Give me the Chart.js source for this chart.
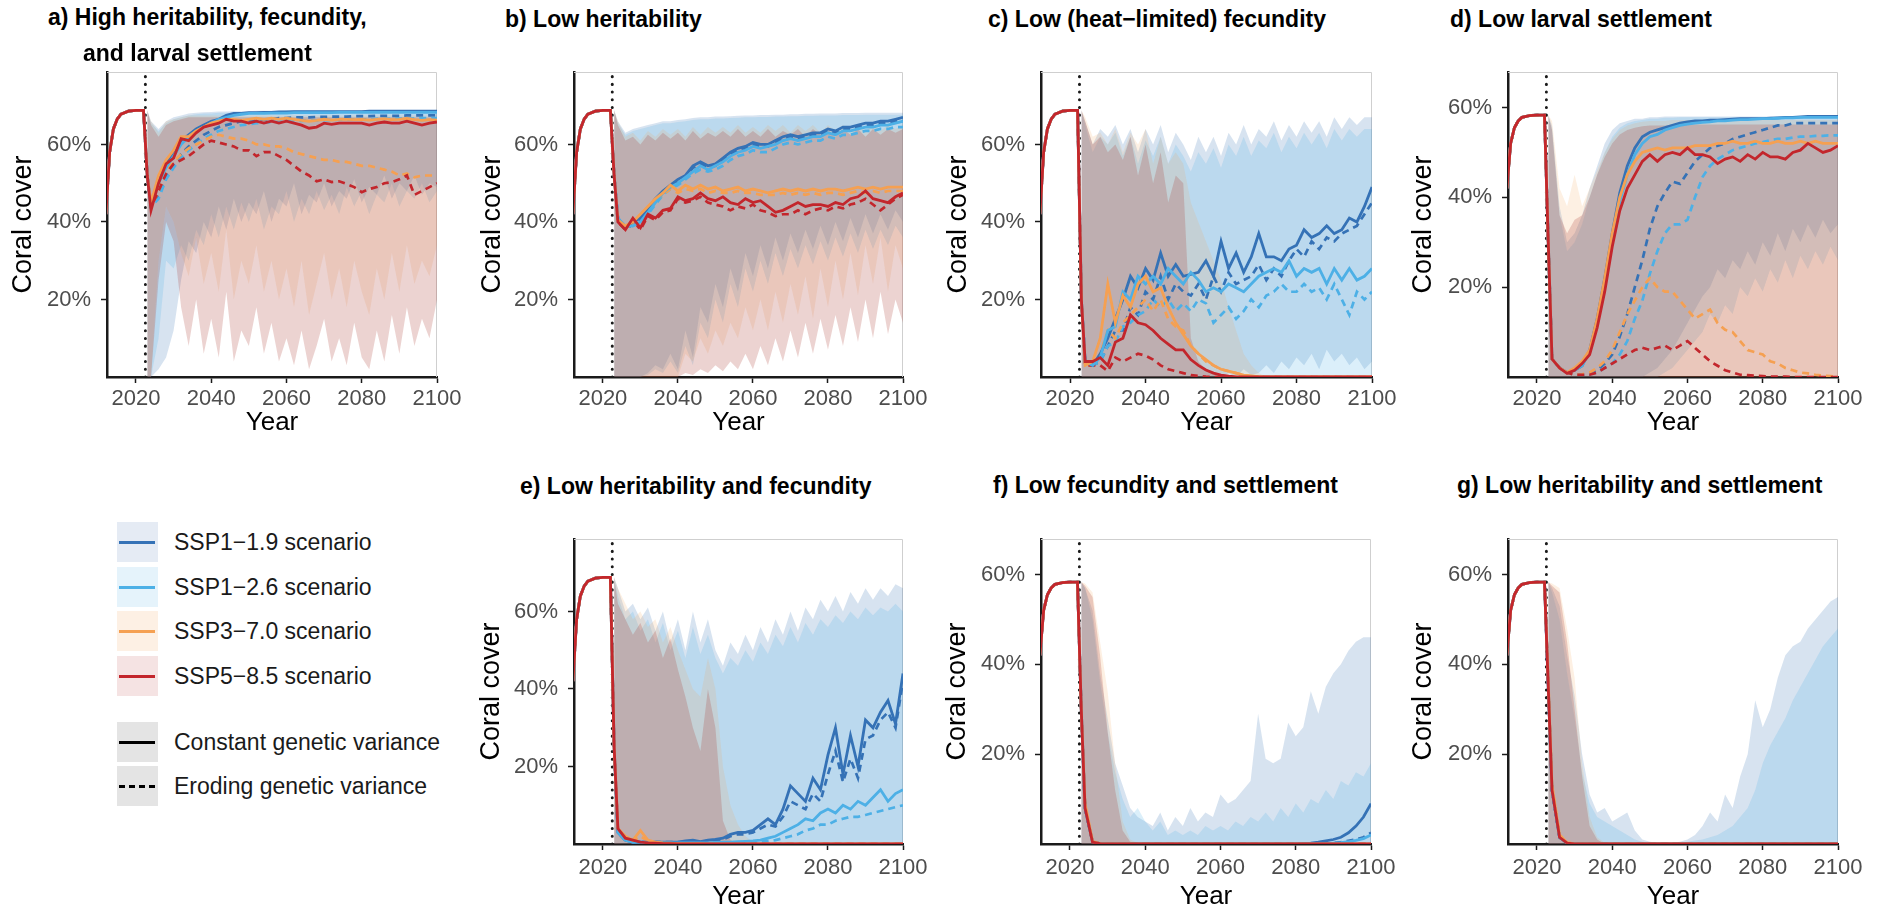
<!DOCTYPE html>
<html>
<head>
<meta charset="utf-8">
<script src="https://cdn.jsdelivr.net/npm/chart.js@4.4.1/dist/chart.umd.min.js"></script>
<style>
  html, body { margin: 0; padding: 0; background: #fff; }
  body { width: 1883px; height: 911px; position: relative; overflow: hidden;
         font-family: 'Liberation Sans', Arial, Helvetica, sans-serif; }
  canvas { position: absolute; }
  .ttl { position: absolute; font-weight: bold; font-size: 23px; line-height: 23px; color: #000; white-space: nowrap; }
  .key { position: absolute; left: 117px; width: 41px; height: 40px; }
  .key i { position: absolute; left: 2px; width: 36px; top: 19px; height: 2.5px; }
  .lab { position: absolute; left: 174px; font-size: 23px; line-height: 40px; height: 40px; color: #1a1a1a; white-space: nowrap; }
</style>
</head>
<body>
<script>
// ---- axis / shared data ----
const X_MIN = 2012.3, X_MAX = 2100;
const SHIFT_YEAR = 2022.5;
const X_TICKS = [2020, 2040, 2060, 2080, 2100];
const Y_TICKS = [20, 40, 60];

const SCENARIOS = ['SSP1\u22121.9 scenario', 'SSP1\u22122.6 scenario', 'SSP3\u22127.0 scenario', 'SSP5\u22128.5 scenario'];
const VARIANCE_TYPES = ['Constant genetic variance', 'Eroding genetic variance'];
const LINE_COLORS = ['#3572b6', '#4db0e6', '#f5a052', '#c3262c'];
const RIBBON_FILLS = ['rgba(53,114,182,0.2)', 'rgba(77,176,230,0.2)', 'rgba(245,160,82,0.16)', 'rgba(170,55,45,0.22)'];
const KEY_FILLS = ['#e5ebf4', '#e5f3fb', '#fdf0e4', '#f5e3e3'];

const YEARS_PRE = [2012, 2013, 2014, 2015, 2016, 2018, 2020, 2022];
const SPIN_HIGH = [42, 58, 64, 66.5, 67.8, 68.6, 68.8, 68.8];
const SPIN_LOW = [42, 52, 55.5, 57, 57.8, 58.2, 58.3, 58.3];

const YEARS_POST = [2023, 2024, 2026, 2028, 2030, 2032, 2034, 2036, 2038, 2040,
  2042, 2044, 2046, 2048, 2050, 2052, 2054, 2056, 2058, 2060,
  2062, 2064, 2066, 2068, 2070, 2072, 2074, 2076, 2078, 2080,
  2082, 2084, 2086, 2088, 2090, 2092, 2094, 2096, 2098, 2100];

const zeroFloor = [0, 0, 0, 0, 0, 0, 0, 0, 0, 0,
  0, 0, 0, 0, 0, 0, 0, 0, 0, 0,
  0, 0, 0, 0, 0, 0, 0, 0, 0, 0,
  0, 0, 0, 0, 0, 0, 0, 0, 0, 0];

// ---- panel a ----
const a_s119 = [52, 44, 51, 55, 57.5, 61, 62.5, 64, 65, 66,
  66.5, 67.5, 68, 68, 68.2, 68.2, 68.3, 68.3, 68.4, 68.4,
  68.5, 68.5, 68.5, 68.5, 68.5, 68.5, 68.5, 68.5, 68.5, 68.5,
  68.6, 68.6, 68.6, 68.6, 68.6, 68.6, 68.6, 68.6, 68.6, 68.6];
const a_s126 = [52, 44.5, 50, 54, 57, 60, 62, 63.5, 64.5, 65.5,
  66.5, 67, 67.5, 67.8, 68, 68, 68, 68.1, 68.1, 68.1,
  68.2, 68.2, 68.2, 68.2, 68.2, 68.2, 68.3, 68.3, 68.3, 68.3,
  68.3, 68.3, 68.3, 68.3, 68.3, 68.3, 68.3, 68.3, 68.3, 68.3];
const a_s370 = [52, 45, 52, 56, 58.5, 62, 62, 63.5, 64.5, 65.5,
  66, 66.5, 66.5, 66.2, 66.5, 66.8, 66.5, 66.8, 66.5, 66.8,
  66.5, 66.2, 66, 66.2, 66.5, 66.3, 66.5, 66.5, 66.4, 66.5,
  66.3, 66.5, 66.6, 66.4, 66.5, 66.7, 66.4, 66.2, 66.4, 66.3];
const a_s585 = [52, 43, 50, 55, 56.5, 61.5, 61, 63, 64.5, 65,
  65.5, 66.5, 66, 66, 65.5, 66, 65.5, 66, 65.5, 66,
  65.5, 65, 64.2, 64.5, 65.5, 65.2, 65.5, 65.5, 65.5, 65.5,
  65, 65.5, 65.8, 65.5, 65.5, 66, 65.5, 65, 65.5, 65.8];
const a_e119 = [52, 44, 47, 52, 55, 57.5, 59.5, 61, 62.5, 63.5,
  64.5, 65, 65.5, 66, 66, 66.3, 66.5, 66.5, 66.8, 66.8,
  67, 67, 67, 67.1, 67.1, 67.2, 67.2, 67.2, 67.3, 67.3,
  67.3, 67.4, 67.4, 67.4, 67.4, 67.5, 67.5, 67.5, 67.5, 67.5];
const a_e126 = [52, 44, 46, 51, 54, 56.5, 58.5, 60, 61.5, 62.5,
  63.5, 64, 64.5, 65, 65.2, 65.5, 65.6, 65.8, 65.9, 66,
  66, 66.1, 66.2, 66.2, 66.3, 66.3, 66.4, 66.4, 66.5, 66.5,
  66.5, 66.6, 66.6, 66.6, 66.7, 66.7, 66.7, 66.8, 66.8, 66.8];
const a_e370 = [52, 44, 48, 53, 55.5, 57.5, 59, 60, 61, 62,
  62.5, 62, 61.5, 61.5, 61, 60, 60, 59.5, 59.5, 59,
  58, 57.5, 57, 56.5, 56, 56, 55.5, 55.5, 55, 54.5,
  54.5, 54, 53.5, 53, 52, 52.5, 51.5, 52, 52, 52];
const a_e585 = [52, 44, 48, 52.5, 55, 56, 57, 58.5, 60, 61,
  60.5, 60, 59.5, 58.5, 58.5, 57, 58, 58, 57, 56,
  54.5, 53, 52, 50.5, 51, 50.3, 50.5, 49.8, 49, 47.7,
  48.5, 49, 50, 50.3, 51, 52, 47, 48, 49, 50];
const a_hi119 = [68.8, 66, 64, 66, 67, 67.5, 68, 68.2, 68.3, 68.4,
  68.5, 68.5, 68.6, 68.6, 68.6, 68.7, 68.7, 68.7, 68.7, 68.8,
  68.8, 68.8, 68.8, 68.8, 68.8, 68.8, 68.8, 68.8, 68.8, 68.8,
  68.8, 68.8, 68.8, 68.8, 68.8, 68.8, 68.8, 68.8, 68.8, 68.8];
const a_lo119 = [0, 0, 2, 5, 12, 25, 35, 32, 40, 36,
  44, 38, 46, 40, 45, 42, 48, 40, 46, 44,
  50, 42, 47, 45, 50, 44, 48, 46, 51, 45,
  49, 47, 52, 46, 50, 48, 52, 47, 50, 49];
const a_hi126 = [68.8, 65.5, 63.5, 65.5, 66.5, 67, 67.5, 67.8, 68, 68,
  68.2, 68.2, 68.2, 68.2, 68.2, 68.2, 68.2, 68.2, 68.2, 68.2,
  68.3, 68.3, 68.3, 68.3, 68.3, 68.3, 68.3, 68.3, 68.3, 68.3,
  68.4, 68.4, 68.4, 68.4, 68.4, 68.4, 68.4, 68.4, 68.4, 68.4];
const a_lo126 = [0, 0, 10, 30, 28, 34, 30, 38, 34, 42,
  36, 44, 38, 45, 40, 46, 38, 44, 42, 48,
  40, 46, 42, 48, 43, 47, 42, 49, 44, 48,
  42, 47, 45, 50, 44, 48, 46, 50, 45, 48];
const a_hi370 = [68.8, 66, 63, 66, 66.5, 67, 67.5, 67.5, 67.5, 67.5,
  67.5, 67.5, 67.5, 67.5, 67.5, 67.5, 67.5, 67.5, 67.5, 67.5,
  67.5, 67.5, 67.5, 67.5, 67.5, 67.5, 67.5, 67.5, 67.5, 67.5,
  67.5, 67.5, 67.5, 67.5, 67.5, 67.5, 67.5, 67.5, 67.5, 67.5];
const a_lo370 = [0, 0, 30, 44, 40, 32, 26, 36, 24, 32,
  22, 38, 20, 30, 24, 34, 22, 30, 20, 28,
  18, 30, 16, 24, 32, 20, 28, 18, 30, 22,
  16, 28, 20, 32, 22, 34, 24, 30, 26, 34];
const a_hi585 = [68.8, 65, 62, 65, 66, 66.5, 67, 67, 67, 67,
  67, 67, 67, 67, 67, 67, 67, 67, 67, 67,
  67, 67, 67, 67, 67, 67, 67, 67, 67, 67,
  67, 67, 67, 67, 67, 67, 67, 67, 67, 67];
const a_lo585 = [0, 0, 25, 40, 35, 18, 8, 20, 6, 15,
  5, 22, 4, 12, 8, 18, 6, 14, 4, 10,
  3, 12, 2, 8, 15, 4, 10, 3, 14, 5,
  2, 12, 4, 16, 6, 18, 8, 15, 10, 20];

// ---- panel b ----
const b_s119 = [52, 41, 38.5, 40, 41, 43.5, 46, 48, 49.5, 51,
  52, 54.5, 55.5, 54.5, 55, 56.5, 58, 59, 59.5, 60.5,
  60, 60, 61, 62, 62.5, 62, 62.5, 63, 63, 64,
  63.5, 64.5, 64.5, 65, 65.5, 65.5, 66, 66, 66.5, 67];
const b_s126 = [52, 41, 39, 39, 40, 42.5, 45, 47.5, 49, 50,
  51.5, 53, 54.5, 53.5, 54.5, 55.5, 57, 58, 58.5, 59.5,
  59, 59.5, 60, 61, 61.5, 61, 61.5, 62, 62, 63,
  62.5, 63.5, 63.5, 64, 64.5, 64.5, 65, 65, 65.5, 66];
const b_s370 = [52, 40.5, 39, 40, 42, 44, 46, 47.5, 49.5, 48,
  49.5, 48.5, 49.5, 48.5, 49, 48, 48.5, 49, 48, 48.5,
  48, 47.5, 48, 48.5, 48, 48.5, 48, 48.5, 48, 48.5,
  48.5, 48, 48.5, 49, 48.5, 49, 48.5, 49, 49, 49];
const b_s585 = [52, 40, 38, 41, 38.5, 42, 41, 43, 43.5, 46.5,
  45.5, 46, 47.5, 46, 45.5, 46.5, 45, 44.5, 46, 45,
  45.5, 44, 42.5, 43, 44, 45, 44, 44.5, 44.5, 44,
  45, 44.5, 46, 46.5, 48, 46, 45.5, 45, 46.5, 47.5];
const b_e119 = [52, 41, 38, 39.5, 40.5, 43, 45.5, 47.5, 49, 50.5,
  51.5, 54, 55, 54, 54.5, 56, 57.5, 58.5, 59, 60,
  59.5, 59.5, 60.5, 61.5, 62, 61.5, 62, 62.5, 62.5, 63.5,
  63, 64, 64, 64.5, 65, 65, 65.5, 65.5, 66, 66];
const b_e126 = [52, 41, 38.5, 39, 40, 42, 44.5, 47, 48.5, 49.5,
  51, 52.5, 53.5, 53, 53.5, 54.5, 56, 57, 57.5, 58.5,
  58, 58, 59, 60, 60.5, 60, 60.5, 61, 61, 62,
  61.5, 62.5, 62.5, 63, 63.5, 63.5, 64, 64, 64.5, 64.5];
const b_e370 = [52, 40.5, 38.5, 39.5, 41.5, 43.5, 45.5, 47, 48.5, 47.5,
  48.5, 48, 48.5, 47.5, 48, 47.5, 47.5, 48, 47.5, 47.5,
  47, 47, 47, 47.5, 47, 47.5, 47, 47.5, 47, 47.5,
  47.5, 47, 47.5, 48, 47.5, 48, 47.5, 48, 48, 48];
const b_e585 = [52, 40, 38, 40.5, 38, 41.5, 40.5, 42.5, 43, 46,
  45, 45.5, 46.5, 45, 44.5, 44, 43, 44, 43.5, 44.5,
  43, 42.5, 41.5, 42, 42, 43, 42, 43, 43.5, 43,
  44, 43.5, 44.5, 45, 46, 44.5, 43, 44.5, 46, 47];
const b_hi119 = [68.8, 66, 63, 64, 64.5, 65, 65.5, 66, 66, 66.3,
  66.5, 66.8, 67, 67, 67.2, 67.2, 67.3, 67.4, 67.5, 67.5,
  67.6, 67.6, 67.7, 67.7, 67.8, 67.8, 67.9, 67.9, 68, 68,
  68, 68.1, 68.1, 68.1, 68.2, 68.2, 68.2, 68.2, 68.2, 68.2];
const b_lo119 = [0, 0, 0, 0, 0, 1, 3, 2, 6, 2,
  12, 5, 18, 14, 24, 18, 28, 22, 32, 26,
  34, 28, 36, 30, 37, 32, 38, 33, 39, 34,
  40, 35, 41, 36, 42, 37, 42, 38, 43, 40];
const b_hi126 = [68.8, 65.5, 62.5, 63.5, 64, 64.5, 65, 65.5, 65.5, 65.8,
  66, 66.3, 66.5, 66.5, 66.7, 66.7, 66.8, 66.9, 67, 67,
  67.1, 67.1, 67.2, 67.2, 67.3, 67.3, 67.4, 67.4, 67.5, 67.5,
  67.5, 67.6, 67.6, 67.6, 67.7, 67.7, 67.7, 67.7, 67.7, 67.7];
const b_lo126 = [0, 0, 0, 0, 0, 0.5, 2, 1, 4, 1,
  8, 3, 14, 10, 20, 14, 24, 18, 28, 22,
  30, 24, 32, 26, 33, 28, 34, 29, 35, 30,
  36, 31, 37, 32, 38, 33, 38, 34, 39, 36];
const b_hi370 = [68.8, 66, 62, 63, 61, 63.5, 62, 64, 62.5, 64,
  62, 64.5, 62.5, 64.5, 63, 64.5, 63, 65, 63, 64.5,
  63, 65, 63.5, 65, 63, 65, 63.5, 65, 63, 65,
  63.5, 65, 63, 65, 63.5, 65, 63.5, 65, 64, 65];
const b_lo370 = [0, 0, 0, 0, 0, 0, 0, 0, 0, 0,
  6, 4, 10, 6, 12, 8, 14, 10, 18, 12,
  20, 12, 22, 14, 24, 16, 26, 15, 28, 18,
  30, 20, 32, 21, 34, 24, 36, 22, 34, 28];
const b_hi585 = [68.8, 65, 61, 62, 60, 62.5, 61, 63, 61.5, 63,
  61, 63.5, 61.5, 63, 62, 63.5, 62, 64, 62, 63.5,
  62, 64, 62, 63.5, 62.5, 64, 62, 64, 62.5, 64,
  62, 64, 62.5, 64, 62, 64, 62.5, 64, 63, 64];
const b_lo585 = [0, 0, 0, 0, 0, 0, 0, 0, 0, 0,
  1, 0.5, 2, 1, 3, 1.5, 4, 2, 6, 2,
  8, 3, 10, 4, 12, 5, 14, 6, 15, 7,
  16, 8, 18, 9, 20, 10, 22, 11, 20, 14];

// ---- panel c ----
const c_s119 = [20, 4, 3, 6, 10, 15, 20, 26, 23, 28,
  25, 32, 26, 29, 26, 26.5, 27, 30, 26, 35,
  28, 32, 27, 31, 37, 31, 31, 30, 33, 34,
  38, 36, 37, 39, 37, 38, 41, 40, 44, 49];
const c_s126 = [20, 4, 3, 5, 12, 13, 22, 20, 26, 24,
  26, 24, 28, 26, 24, 27, 25, 22, 23, 22,
  24, 23, 22, 24, 26, 27, 28, 27, 30, 26,
  28, 27, 28, 24, 28, 25, 28, 25, 26, 28];
const c_s370 = [20, 3, 4, 10, 24, 14, 21, 18, 24, 26,
  22, 23, 18, 14, 11, 8, 6, 4.5, 3, 2,
  1.5, 1, 0.5, 0.3, 0.1, 0, 0, 0, 0, 0,
  0, 0, 0, 0, 0, 0, 0, 0, 0, 0];
const c_s585 = [20, 4, 4, 5, 3, 9, 10, 16, 14, 13.5,
  12, 10, 8.5, 7, 7, 4.5, 3, 1.8, 1, 0.5,
  0.2, 0, 0, 0, 0, 0, 0, 0, 0, 0,
  0, 0, 0, 0, 0, 0, 0, 0, 0, 0];
const c_e119 = [20, 4, 3, 4, 8, 12, 12, 18, 16, 22,
  20, 26, 20, 24, 22, 21, 24, 20, 26, 22,
  27, 24, 25, 26, 29, 25, 28, 26, 30, 33,
  31, 35, 33, 36, 35, 37, 38, 39, 42, 45];
const c_e126 = [20, 4, 3, 4, 8, 9, 13, 14, 16, 17,
  20, 18, 20, 17, 19, 17, 20, 19, 14, 16,
  18, 15, 17, 20, 18, 21, 22, 24, 22, 22,
  24, 22, 23, 20, 24, 20, 16, 22, 20, 22];
const c_e370 = [20, 3, 3, 6, 12, 10, 14, 16, 18, 20,
  17, 20, 15, 13, 12, 8, 6, 4, 3, 2,
  1.5, 1, 0.5, 0.2, 0, 0, 0, 0, 0, 0,
  0, 0, 0, 0, 0, 0, 0, 0, 0, 0];
const c_e585 = [20, 3, 3, 3, 1.5, 5, 4, 5, 6, 5.5,
  4.5, 3, 2, 1.5, 1, 0.5, 0.3, 0.1, 0, 0,
  0, 0, 0, 0, 0, 0, 0, 0, 0, 0,
  0, 0, 0, 0, 0, 0, 0, 0, 0, 0];
const c_hi119 = [68.8, 66, 60, 64, 62, 65, 60, 64, 58, 64,
  60, 65, 58, 63, 60, 56, 62, 58, 62, 57,
  63, 60, 65, 60, 64, 62, 66, 61, 65, 62,
  66, 63, 66, 62, 67, 64, 67, 65, 67, 67];
const c_lo119 = [0, 0, 0, 0, 0, 0, 0, 0, 0, 0,
  0, 0, 0, 0, 0, 0, 0, 0, 0, 0,
  1, 0, 2, 0.5, 1, 3, 1, 4, 2, 5,
  3, 6, 2, 7, 4, 6, 3, 5, 2, 4];
const c_hi126 = [68.8, 65, 58, 62, 60, 63, 57, 62, 55, 61,
  57, 62, 55, 60, 57, 53, 58, 55, 59, 54,
  60, 57, 62, 57, 61, 59, 63, 58, 62, 59,
  63, 60, 63, 59, 64, 61, 64, 62, 64, 64];
const c_hi370 = [68.8, 67, 62, 63, 60, 64, 58, 63, 60, 64,
  55, 62, 55, 58, 55, 45, 40, 35, 30, 25,
  18, 12, 6, 3, 1, 0, 0, 0, 0, 0,
  0, 0, 0, 0, 0, 0, 0, 0, 0, 0];
const c_hi585 = [68.8, 66, 60, 62, 58, 60, 56, 62, 52, 60,
  50, 58, 45, 52, 50, 10, 4, 2, 1, 0.5,
  0, 0, 0, 0, 0, 0, 0, 0, 0, 0,
  0, 0, 0, 0, 0, 0, 0, 0, 0, 0];

// ---- panel d ----
const d_s119 = [30, 4, 2, 1, 1.5, 2.5, 6, 13, 22, 32,
  41, 47, 51, 53.5, 54.5, 55, 55.5, 56, 56.5, 56.8,
  57, 57, 57.2, 57.2, 57.3, 57.4, 57.5, 57.5, 57.5, 57.5,
  57.6, 57.7, 57.8, 57.8, 57.9, 58, 58, 58, 58, 58];
const d_s126 = [30, 4, 2, 1, 1.5, 2.5, 5.5, 12, 21, 30,
  39, 45, 49.5, 52, 53.5, 54, 55, 55.5, 56, 56.3,
  56.5, 56.7, 56.8, 57, 57, 57.2, 57.3, 57.3, 57.4, 57.5,
  57.5, 57.6, 57.7, 57.7, 57.8, 57.8, 57.8, 57.8, 57.8, 57.8];
const d_s370 = [30, 4, 2, 1, 2, 3.5, 6, 13, 22, 32,
  40, 45, 48, 50, 50.5, 51, 50.5, 51, 51, 51,
  51.5, 51.5, 51.5, 52, 52, 52.5, 52, 52, 52.5, 52,
  52, 52.5, 52, 52, 52.5, 52, 52.5, 52, 52, 52];
const d_s585 = [30, 4, 2, 0.8, 1.5, 3, 5, 11, 19, 29,
  37, 42, 45, 48, 49.5, 48, 49.5, 50, 49.5, 51,
  49.5, 49.5, 49, 47.5, 48.5, 49, 48, 49.5, 48.5, 50,
  49, 49, 48.5, 50, 50.5, 52, 51, 50, 50.5, 51.5];
const d_e119 = [30, 4, 2, 1, 0.5, 0.5, 0.8, 1.5, 3, 5,
  9, 14, 20, 26, 33, 38, 41, 43.5, 43, 45.5,
  48, 49.5, 51, 51.5, 52, 53, 53.5, 54, 54.5, 55,
  55.5, 56, 56, 56.5, 56.5, 56.5, 56.5, 56.5, 56.5, 56.5];
const d_e126 = [30, 4, 2, 1, 0.5, 0.5, 0.6, 1, 2, 3,
  5, 8, 13, 17, 23, 28, 32, 34, 34, 35,
  40, 44.5, 47, 48.5, 49.5, 50.5, 51, 51.5, 52, 52.3,
  52.7, 53, 53, 53.3, 53.5, 53.5, 53.7, 53.7, 53.8, 53.8];
const d_e370 = [30, 4, 2, 1, 0.5, 0.6, 1, 2, 3.5, 6,
  10, 14, 17, 20, 22, 20, 19, 19, 17, 15,
  13, 14, 15, 12, 10.5, 10, 8, 6, 5.5, 5,
  3.5, 3, 2, 1.5, 1, 0.8, 0.5, 0.3, 0.2, 0.1];
const d_e585 = [30, 4, 2, 1, 0.5, 0.5, 0.5, 1, 2, 3,
  4, 5, 6, 6.5, 6, 6.5, 7, 6, 7, 8,
  6.5, 5, 3.5, 2.5, 1.5, 1, 0.5, 0.4, 0.3, 0.2,
  0.1, 0.1, 0.1, 0, 0, 0, 0, 0, 0, 0];
const d_hi119 = [58.3, 56, 38, 30, 32, 36, 42, 47, 52, 55,
  56.5, 57, 57.5, 57.5, 57.8, 57.8, 58, 58, 58, 58,
  58, 58, 58, 58, 58, 58, 58, 58, 58, 58,
  58, 58, 58, 58, 58, 58, 58, 58, 58, 58];
const d_lo119 = [0, 0, 0, 0, 0, 0, 0, 0, 0, 0,
  0, 0, 0, 0, 1, 2, 4, 6, 9, 12,
  15, 18, 20, 24, 22, 26, 24, 28, 25, 30,
  27, 32, 28, 33, 30, 34, 31, 35, 32, 34];
const d_hi126 = [58.3, 55, 36, 28, 30, 34, 40, 45, 50, 53.5,
  55.5, 56.5, 57, 57.2, 57.5, 57.5, 57.7, 57.7, 57.8, 57.8,
  57.8, 57.8, 57.8, 57.8, 57.8, 57.8, 57.8, 57.8, 57.8, 57.8,
  57.8, 57.8, 57.8, 57.8, 57.8, 57.8, 57.8, 57.8, 57.8, 57.8];
const d_lo126 = [0, 0, 0, 0, 0, 0, 0, 0, 0, 0,
  0, 0, 0, 0, 0, 0, 1, 2, 4, 6,
  8, 10, 14, 12, 16, 14, 20, 18, 22, 19,
  24, 21, 26, 22, 27, 24, 28, 25, 29, 26];
const d_hi370 = [58.3, 57, 42, 38, 45, 38, 42, 46, 50, 53,
  55, 56, 56.5, 56.8, 57, 57, 57, 57.2, 57.2, 57.2,
  57.2, 57.2, 57.2, 57.2, 57.2, 57.2, 57.2, 57.2, 57.2, 57.2,
  57.2, 57.2, 57.2, 57.2, 57.2, 57.2, 57.2, 57.2, 57.2, 57.2];
const d_hi585 = [58.3, 55, 36, 32, 35, 36, 40, 45, 49, 52,
  54, 55, 55.5, 55.8, 56, 56, 56, 56.2, 56.2, 56.2,
  56.2, 56.2, 56.2, 56.2, 56.2, 56.2, 56.2, 56.2, 56.2, 56.2,
  56.2, 56.2, 56.2, 56.2, 56.2, 56.2, 56.2, 56.2, 56.2, 56.2];

// ---- panel e ----
const e_s119 = [25, 3, 1, 0.5, 0.5, 0.5, 0.5, 0.5, 0.5, 0.5,
  0.8, 1, 0.6, 1, 1.2, 1.5, 2.5, 3, 3, 3.5,
  5, 6.5, 5, 9, 15, 13, 11, 17, 14, 23,
  30, 18, 28, 20, 32, 30, 34, 37, 31, 44];
const e_s126 = [25, 3, 1, 0.5, 0.5, 0.3, 0.3, 0.3, 0.3, 0.3,
  0.3, 0.3, 0.3, 0.3, 0.4, 0.5, 0.5, 0.6, 0.7, 0.8,
  1, 1.5, 2, 3, 4, 5, 6.5, 6, 8, 9,
  8, 10, 9, 11, 10, 12, 14, 11, 13, 14];
const e_s370 = [25, 4, 2, 1, 3.5, 1, 0.5, 0.3, 0.2, 0.1,
  0.1, 0.1, 0.1, 0, 0, 0, 0, 0, 0, 0,
  0, 0, 0, 0, 0, 0, 0, 0, 0, 0,
  0, 0, 0, 0, 0, 0, 0, 0, 0, 0];
const e_s585 = [25, 4, 1.5, 1, 0.5, 0.3, 0.2, 0.1, 0.1, 0,
  0, 0, 0, 0, 0, 0, 0, 0, 0, 0,
  0, 0, 0, 0, 0, 0, 0, 0, 0, 0,
  0, 0, 0, 0, 0, 0, 0, 0, 0, 0];
const e_e119 = [25, 3, 1, 0.5, 0.5, 0.5, 0.5, 0.5, 0.5, 0.5,
  0.5, 0.8, 0.5, 0.8, 1, 1.2, 2, 2.5, 2.5, 3,
  4, 5, 4.5, 7, 11, 10, 9, 13, 11, 18,
  24, 16, 22, 17, 27, 28, 32, 34, 30, 42];
const e_e126 = [25, 3, 1, 0.5, 0.5, 0.3, 0.3, 0.3, 0.3, 0.3,
  0.3, 0.3, 0.3, 0.3, 0.3, 0.3, 0.3, 0.4, 0.4, 0.5,
  0.6, 0.8, 1, 1.5, 2, 2.5, 3.5, 4, 5, 5,
  6, 6.5, 7, 7, 7.5, 8, 8.5, 9, 9.5, 10];
const e_e370 = [25, 3.5, 1.5, 0.8, 2, 0.8, 0.4, 0.2, 0.1, 0,
  0, 0, 0, 0, 0, 0, 0, 0, 0, 0,
  0, 0, 0, 0, 0, 0, 0, 0, 0, 0,
  0, 0, 0, 0, 0, 0, 0, 0, 0, 0];
const e_e585 = [25, 3.5, 1.2, 0.8, 0.4, 0.2, 0.1, 0, 0, 0,
  0, 0, 0, 0, 0, 0, 0, 0, 0, 0,
  0, 0, 0, 0, 0, 0, 0, 0, 0, 0,
  0, 0, 0, 0, 0, 0, 0, 0, 0, 0];
const e_hi119 = [68.8, 66, 60, 62, 58, 61, 55, 60, 52, 58,
  50, 60, 52, 58, 50, 46, 52, 49, 54, 50,
  56, 52, 58, 54, 60, 55, 61, 58, 63, 60,
  64, 60, 65, 62, 66, 63, 66, 64, 67, 66];
const e_hi126 = [68.8, 64, 58, 60, 55, 58, 52, 57, 50, 55,
  48, 56, 49, 54, 48, 44, 48, 46, 50, 47,
  52, 49, 54, 51, 56, 52, 57, 54, 58, 56,
  59, 57, 60, 58, 61, 59, 61, 60, 62, 60];
const e_hi370 = [68.8, 66, 62, 58, 60, 56, 58, 52, 56, 50,
  45, 40, 38, 48, 40, 20, 10, 5, 2, 0.5,
  0, 0, 0, 0, 0, 0, 0, 0, 0, 0,
  0, 0, 0, 0, 0, 0, 0, 0, 0, 0];
const e_hi585 = [68.8, 62, 58, 54, 57, 52, 55, 48, 53, 45,
  38, 30, 24, 40, 30, 6, 1, 0, 0, 0,
  0, 0, 0, 0, 0, 0, 0, 0, 0, 0,
  0, 0, 0, 0, 0, 0, 0, 0, 0, 0];

// ---- panel f ----
const f_s119 = [30, 8, 0.5, 0.1, 0, 0, 0, 0, 0, 0,
  0, 0, 0, 0, 0, 0, 0, 0, 0, 0,
  0, 0, 0, 0, 0, 0, 0, 0, 0, 0,
  0.1, 0.2, 0.4, 0.7, 1, 1.5, 2.5, 4, 6, 9];
const f_s126 = [30, 8, 0.5, 0.1, 0, 0, 0, 0, 0, 0,
  0, 0, 0, 0, 0, 0, 0, 0, 0, 0,
  0, 0, 0, 0, 0, 0, 0, 0, 0, 0,
  0, 0, 0, 0.1, 0.2, 0.3, 0.5, 0.8, 1.2, 2];
const f_s370 = [30, 9, 0.6, 0.1, 0, 0, 0, 0, 0, 0,
  0, 0, 0, 0, 0, 0, 0, 0, 0, 0,
  0, 0, 0, 0, 0, 0, 0, 0, 0, 0,
  0, 0, 0, 0, 0, 0, 0, 0, 0, 0];
const f_s585 = [30, 8, 0.4, 0.1, 0, 0, 0, 0, 0, 0,
  0, 0, 0, 0, 0, 0, 0, 0, 0, 0,
  0, 0, 0, 0, 0, 0, 0, 0, 0, 0,
  0, 0, 0, 0, 0, 0, 0, 0, 0, 0];
const f_e119 = [30, 8, 0.5, 0.1, 0, 0, 0, 0, 0, 0,
  0, 0, 0, 0, 0, 0, 0, 0, 0, 0,
  0, 0, 0, 0, 0, 0, 0, 0, 0, 0,
  0, 0, 0, 0, 0.2, 0.4, 0.7, 1, 1.5, 2.5];
const f_e126 = [30, 8, 0.5, 0.1, 0, 0, 0, 0, 0, 0,
  0, 0, 0, 0, 0, 0, 0, 0, 0, 0,
  0, 0, 0, 0, 0, 0, 0, 0, 0, 0,
  0, 0, 0, 0, 0, 0, 0, 0, 0, 0];
const f_e370 = [30, 8.5, 0.5, 0.1, 0, 0, 0, 0, 0, 0,
  0, 0, 0, 0, 0, 0, 0, 0, 0, 0,
  0, 0, 0, 0, 0, 0, 0, 0, 0, 0,
  0, 0, 0, 0, 0, 0, 0, 0, 0, 0];
const f_e585 = [30, 8, 0.4, 0.1, 0, 0, 0, 0, 0, 0,
  0, 0, 0, 0, 0, 0, 0, 0, 0, 0,
  0, 0, 0, 0, 0, 0, 0, 0, 0, 0,
  0, 0, 0, 0, 0, 0, 0, 0, 0, 0];
const f_hi119 = [58.3, 57, 52, 38, 28, 18, 13, 8, 6, 5,
  4, 7, 3, 6, 4, 8, 5, 7, 6, 11,
  9, 10, 12, 14, 29, 19, 18, 19, 27, 24,
  26, 34, 29, 35, 38, 40, 43, 45, 46, 46];
const f_hi126 = [58.3, 57, 50, 36, 25, 16, 10, 6, 8, 5,
  3, 5, 2, 3, 2, 3, 2, 4, 3, 4,
  3, 5, 4, 6, 5, 7, 5, 8, 6, 9,
  7, 10, 9, 12, 10, 14, 13, 16, 15, 18];
const f_hi370 = [58.3, 58, 56, 45, 34, 18, 5, 1, 0.2, 0,
  0, 0, 0, 0, 0, 0, 0, 0, 0, 0,
  0, 0, 0, 0, 0, 0, 0, 0, 0, 0,
  0, 0, 0, 0, 0, 0, 0, 0, 0, 0];
const f_hi585 = [58.3, 57.5, 55, 42, 25, 12, 3, 0.5, 0, 0,
  0, 0, 0, 0, 0, 0, 0, 0, 0, 0,
  0, 0, 0, 0, 0, 0, 0, 0, 0, 0,
  0, 0, 0, 0, 0, 0, 0, 0, 0, 0];

// ---- panel g ----
const g_s119 = [35, 12, 1.5, 0.2, 0, 0, 0, 0, 0, 0,
  0, 0, 0, 0, 0, 0, 0, 0, 0, 0,
  0, 0, 0, 0, 0, 0, 0, 0, 0, 0,
  0, 0, 0, 0, 0, 0, 0, 0, 0, 0];
const g_s126 = [35, 12, 1.5, 0.2, 0, 0, 0, 0, 0, 0,
  0, 0, 0, 0, 0, 0, 0, 0, 0, 0,
  0, 0, 0, 0, 0, 0, 0, 0, 0, 0,
  0, 0, 0, 0, 0, 0, 0, 0, 0, 0];
const g_s370 = [36, 13, 2, 0.3, 0, 0, 0, 0, 0, 0,
  0, 0, 0, 0, 0, 0, 0, 0, 0, 0,
  0, 0, 0, 0, 0, 0, 0, 0, 0, 0,
  0, 0, 0, 0, 0, 0, 0, 0, 0, 0];
const g_s585 = [35, 12, 1.5, 0.2, 0, 0, 0, 0, 0, 0,
  0, 0, 0, 0, 0, 0, 0, 0, 0, 0,
  0, 0, 0, 0, 0, 0, 0, 0, 0, 0,
  0, 0, 0, 0, 0, 0, 0, 0, 0, 0];
const g_e119 = g_s119, g_e126 = g_s126, g_e370 = g_s370, g_e585 = g_s585;
const g_hi119 = [58.3, 57, 53, 42, 33, 20, 11, 7, 8, 5,
  6, 7, 3, 1, 0.5, 0.3, 0.3, 0.3, 0.5, 1,
  2, 4, 7, 5, 11, 8, 15, 20, 32, 26,
  30, 37, 42, 44, 45, 48, 50, 52, 54, 55];
const g_hi126 = [58.3, 56, 50, 38, 28, 16, 9, 6, 5, 4,
  3, 2, 1, 0.5, 0.3, 0.2, 0.2, 0.2, 0.3, 0.5,
  0.8, 1, 1.5, 2, 3, 4, 6, 8, 12, 18,
  22, 25, 28, 32, 35, 38, 41, 44, 46, 48];
const g_hi370 = [58.3, 58, 57, 48, 37, 18, 6, 1.5, 0.3, 0,
  0, 0, 0, 0, 0, 0, 0, 0, 0, 0,
  0, 0, 0, 0, 0, 0, 0, 0, 0, 0,
  0, 0, 0, 0, 0, 0, 0, 0, 0, 0];
const g_hi585 = [58.3, 57.5, 56, 45, 30, 15, 4, 1, 0, 0,
  0, 0, 0, 0, 0, 0, 0, 0, 0, 0,
  0, 0, 0, 0, 0, 0, 0, 0, 0, 0,
  0, 0, 0, 0, 0, 0, 0, 0, 0, 0];

// ---- panel assembly (layout boxes are page pixels, kept apart from data) ----
const panels = [
  { title: ['a) High heritability, fecundity,', 'and larval settlement'], spin: SPIN_HIGH, yMax: 78.7,
    solid: [a_s119, a_s126, a_s370, a_s585], erode: [a_e119, a_e126, a_e370, a_e585],
    hi: [a_hi119, a_hi126, a_hi370, a_hi585], lo: [a_lo119, a_lo126, a_lo370, a_lo585],
    box: { left: 10, top: 62, width: 457, height: 374, yw: 97, xh: 59, tickPad: 3 },
    titlePos: [[48, 6], [83, 42]] },
  { title: ['b) Low heritability'], spin: SPIN_HIGH, yMax: 78.7,
    solid: [b_s119, b_s126, b_s370, b_s585], erode: [b_e119, b_e126, b_e370, b_e585],
    hi: [b_hi119, b_hi126, b_hi370, b_hi585], lo: [b_lo119, b_lo126, b_lo370, b_lo585],
    box: { left: 479, top: 62, width: 454, height: 374, yw: 95, xh: 59, tickPad: 3 },
    titlePos: [[505, 8]] },
  { title: ['c) Low (heat\u2212limited) fecundity'], spin: SPIN_HIGH, yMax: 78.7,
    solid: [c_s119, c_s126, c_s370, c_s585], erode: [c_e119, c_e126, c_e370, c_e585],
    hi: [c_hi119, c_hi126, c_hi370, c_hi585], lo: [c_lo119, zeroFloor, zeroFloor, zeroFloor],
    box: { left: 945, top: 62, width: 457, height: 374, yw: 96, xh: 59, tickPad: 3 },
    titlePos: [[988, 8]] },
  { title: ['d) Low larval settlement'], spin: SPIN_LOW, yMax: 67.9,
    solid: [d_s119, d_s126, d_s370, d_s585], erode: [d_e119, d_e126, d_e370, d_e585],
    hi: [d_hi119, d_hi126, d_hi370, d_hi585], lo: [d_lo119, d_lo126, zeroFloor, zeroFloor],
    box: { left: 1410, top: 62, width: 458, height: 374, yw: 98, xh: 59, tickPad: 3 },
    titlePos: [[1450, 8]] },
  { title: ['e) Low heritability and fecundity'], spin: SPIN_HIGH, yMax: 78.7,
    solid: [e_s119, e_s126, e_s370, e_s585], erode: [e_e119, e_e126, e_e370, e_e585],
    hi: [e_hi119, e_hi126, e_hi370, e_hi585], lo: [zeroFloor, zeroFloor, zeroFloor, zeroFloor],
    box: { left: 478, top: 529, width: 455, height: 381, yw: 96, xh: 66, tickPad: 5 },
    titlePos: [[520, 475]] },
  { title: ['f) Low fecundity and settlement'], spin: SPIN_LOW, yMax: 67.9,
    solid: [f_s119, f_s126, f_s370, f_s585], erode: [f_e119, f_e126, f_e370, f_e585],
    hi: [f_hi119, f_hi126, f_hi370, f_hi585], lo: [zeroFloor, zeroFloor, zeroFloor, zeroFloor],
    box: { left: 944, top: 529, width: 457, height: 381, yw: 97, xh: 66, tickPad: 5 },
    titlePos: [[993, 474]] },
  { title: ['g) Low heritability and settlement'], spin: SPIN_LOW, yMax: 67.9,
    solid: [g_s119, g_s126, g_s370, g_s585], erode: [g_e119, g_e126, g_e370, g_e585],
    hi: [g_hi119, g_hi126, g_hi370, g_hi585], lo: [zeroFloor, zeroFloor, zeroFloor, zeroFloor],
    box: { left: 1410, top: 529, width: 458, height: 381, yw: 98, xh: 66, tickPad: 5 },
    titlePos: [[1457, 474]] }
];

Chart.defaults.font.family = "'Liberation Sans', Arial, Helvetica, sans-serif";
Chart.defaults.color = '#4d4d4d';

// thin grey top/right frame like the ggplot panel border
const framePlugin = {
  id: 'frame',
  beforeDatasetsDraw(chart) {
    const a = chart.chartArea, ctx = chart.ctx;
    ctx.save();
    ctx.strokeStyle = '#cfcfcf';
    ctx.lineWidth = 1;
    ctx.beginPath();
    ctx.moveTo(a.left, a.top + 0.5);
    ctx.lineTo(a.right - 0.5, a.top + 0.5);
    ctx.lineTo(a.right - 0.5, a.bottom);
    ctx.stroke();
    ctx.restore();
  }
};

function pts(xs, ys) {
  return xs.map((x, i) => ({ x: x, y: ys[i] }));
}

function axisStyle() {
  return {
    grid: { display: true, drawOnChartArea: false, drawTicks: true, tickLength: 6, tickColor: '#1a1a1a', tickWidth: 1.5 },
    border: { display: true, color: '#1a1a1a', width: 2.5 }
  };
}

function drawPanel(p) {
  const box = p.box;
  const cv = document.createElement('canvas');
  cv.width = box.width;
  cv.height = box.height;
  cv.style.left = box.left + 'px';
  cv.style.top = box.top + 'px';
  document.body.appendChild(cv);

  const datasets = [];
  // ribbons: lower bound then upper bound filled down to it
  p.hi.forEach((hi, k) => {
    datasets.push({ data: pts(YEARS_POST, p.lo[k]), borderWidth: 0, borderColor: 'transparent',
      pointRadius: 0, fill: false, order: 40 - k });
    datasets.push({ data: pts(YEARS_POST, hi), borderWidth: 0, borderColor: 'transparent',
      pointRadius: 0, fill: '-1', backgroundColor: RIBBON_FILLS[k], order: 40 - k });
  });
  // dotted marker of the start of projections
  datasets.push({ data: [{ x: SHIFT_YEAR, y: 0 }, { x: SHIFT_YEAR, y: p.yMax }],
    borderColor: '#1a1a1a', borderWidth: 3, borderDash: [0.1, 7.6], borderCapStyle: 'round',
    pointRadius: 0, fill: false, order: 30 });
  p.erode.forEach((ys, k) => {
    datasets.push({ data: pts(YEARS_PRE, p.spin).concat(pts(YEARS_POST, ys)), borderColor: LINE_COLORS[k],
      borderWidth: 2.7, borderDash: [7, 5], pointRadius: 0, fill: false, order: 20 - k });
  });
  p.solid.forEach((ys, k) => {
    datasets.push({ data: pts(YEARS_PRE, p.spin).concat(pts(YEARS_POST, ys)), borderColor: LINE_COLORS[k],
      borderWidth: 2.8, pointRadius: 0, fill: false, order: 10 - k });
  });

  new Chart(cv, {
    type: 'line',
    data: { datasets: datasets },
    options: {
      responsive: false,
      animation: false,
      devicePixelRatio: 1,
      events: [],
      layout: { padding: { left: 0, right: 30, top: 10, bottom: 0 } },
      elements: { line: { tension: 0 } },
      plugins: { legend: { display: false }, tooltip: { enabled: false } },
      scales: {
        x: Object.assign({
          type: 'linear', min: X_MIN, max: X_MAX, z: 1,
          afterBuildTicks: s => { s.ticks = X_TICKS.map(v => ({ value: v })); },
          afterFit: s => { s.height = box.xh; s.paddingLeft = 0; s.paddingRight = 0; },
          ticks: { color: '#4d4d4d', font: { size: 22 }, padding: box.tickPad, maxRotation: 0, autoSkip: false,
                   callback: v => String(v) },
          title: { display: true, text: 'Year', color: '#000', font: { size: 26, lineHeight: 1 }, padding: 0 }
        }, axisStyle()),
        y: Object.assign({
          type: 'linear', min: 0, max: p.yMax, z: 1,
          afterBuildTicks: s => { s.ticks = Y_TICKS.map(v => ({ value: v })); },
          afterFit: s => { s.width = box.yw; s.paddingTop = 0; s.paddingBottom = 0; },
          ticks: { color: '#4d4d4d', font: { size: 22 }, padding: 10, callback: v => v + '%' },
          title: { display: true, text: 'Coral cover', color: '#000', font: { size: 27, lineHeight: 1 }, padding: 0 }
        }, axisStyle())
      }
    },
    plugins: [framePlugin]
  });

  p.title.forEach((line, i) => {
    const d = document.createElement('div');
    d.className = 'ttl';
    d.textContent = line;
    d.style.left = p.titlePos[i][0] + 'px';
    d.style.top = p.titlePos[i][1] + 'px';
    document.body.appendChild(d);
  });
}

panels.forEach(drawPanel);

// ---- legend ----
const legendRows = [
  { label: SCENARIOS[0], fill: KEY_FILLS[0], color: LINE_COLORS[0], dashed: false, top: 522 },
  { label: SCENARIOS[1], fill: KEY_FILLS[1], color: LINE_COLORS[1], dashed: false, top: 567 },
  { label: SCENARIOS[2], fill: KEY_FILLS[2], color: LINE_COLORS[2], dashed: false, top: 611 },
  { label: SCENARIOS[3], fill: KEY_FILLS[3], color: LINE_COLORS[3], dashed: false, top: 656 },
  { label: VARIANCE_TYPES[0], fill: '#e4e4e4', color: '#000', dashed: false, top: 722 },
  { label: VARIANCE_TYPES[1], fill: '#e4e4e4', color: '#000', dashed: true, top: 766 }
];
legendRows.forEach(r => {
  const k = document.createElement('div');
  k.className = 'key';
  k.style.top = r.top + 'px';
  k.style.background = r.fill;
  const ln = document.createElement('i');
  ln.style.background = r.dashed
    ? 'repeating-linear-gradient(90deg, ' + r.color + ' 0 6px, transparent 6px 10px)'
    : r.color;
  k.appendChild(ln);
  document.body.appendChild(k);
  const t = document.createElement('div');
  t.className = 'lab';
  t.style.top = r.top + 'px';
  t.textContent = r.label;
  document.body.appendChild(t);
});
</script>
</body>
</html>
